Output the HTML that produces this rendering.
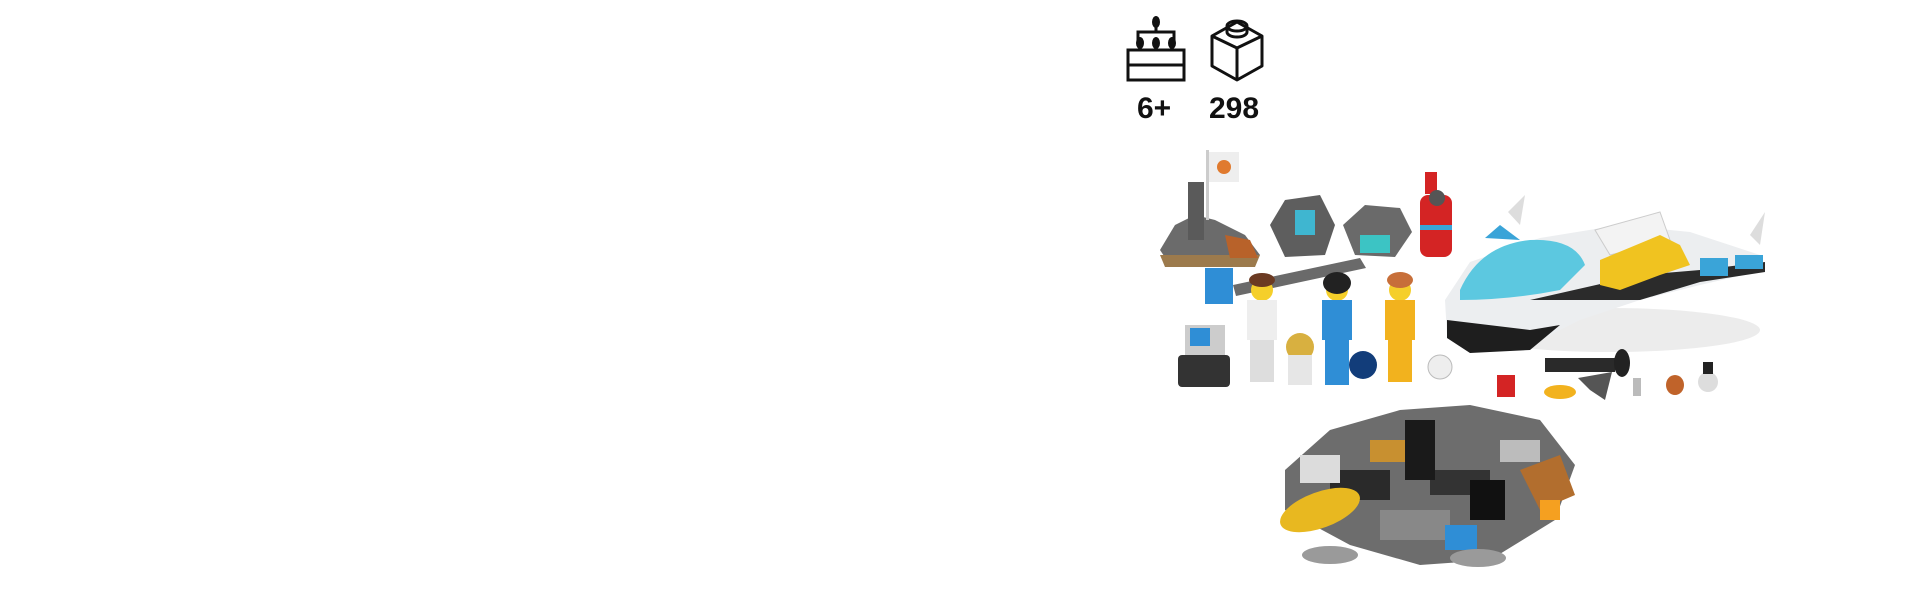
<!DOCTYPE html>
<html><head><meta charset="utf-8"><style>
html,body{margin:0;padding:0;background:#fff;width:1920px;height:600px;overflow:hidden}
.t{position:absolute;font-family:"Liberation Sans",sans-serif;font-weight:bold;font-size:30px;color:#111;top:92px}
</style></head><body>
<svg width="1920" height="600" style="position:absolute;left:0;top:0">
<g fill="none" stroke="#111" stroke-width="3">
<rect x="1128" y="50" width="56" height="30"/>
<line x1="1128" y1="65" x2="1184" y2="65"/>
<polyline points="1138,46 1138,32 1174,32 1174,46"/>
<line x1="1156" y1="24" x2="1156" y2="32"/>
</g>
<g fill="#111">
<ellipse cx="1156" cy="22" rx="4" ry="6"/><ellipse cx="1140" cy="43" rx="4" ry="6"/><ellipse cx="1156" cy="43" rx="4" ry="6"/><ellipse cx="1172" cy="43" rx="4" ry="6"/>
</g>
<g fill="none" stroke="#111" stroke-width="3" stroke-linejoin="round">
<polygon points="1212,36 1237,22 1262,36 1262,66 1237,80 1212,66"/>
<polyline points="1212,36 1237,48 1262,36"/><line x1="1237" y1="48" x2="1237" y2="80"/>
<ellipse cx="1237" cy="26" rx="10" ry="5"/><path d="M1227,26 v6 a10,5 0 0 0 20,0 v-6"/>
</g>
<polygon points="1160,250 1175,225 1195,215 1215,220 1245,235 1260,255 1245,265 1170,265" fill="#6b6b6b"/>
<polygon points="1160,255 1260,255 1255,267 1165,267" fill="#9c7a4c"/>
<rect x="1188" y="182" width="16" height="58" fill="#5a5a5a"/>
<rect x="1206" y="150" width="3" height="70" fill="#ccc"/>
<rect x="1209" y="152" width="30" height="30" fill="#eee"/><circle cx="1224" cy="167" r="7" fill="#e07a2e"/>
<polygon points="1225,235 1250,240 1258,258 1230,258" fill="#b8622a"/>
<polygon points="1270,225 1285,200 1320,195 1335,225 1325,255 1285,257" fill="#5e5e5e"/>
<rect x="1295" y="210" width="20" height="25" fill="#3fb6d0"/>
<polygon points="1343,225 1365,205 1400,208 1412,232 1395,257 1355,255" fill="#6a6a6a"/>
<rect x="1360" y="235" width="30" height="18" fill="#3cc4c4"/>
<rect x="1420" y="195" width="32" height="62" rx="8" fill="#d42424"/>
<rect x="1425" y="172" width="12" height="22" fill="#d42424"/><circle cx="1437" cy="198" r="8" fill="#555"/>
<rect x="1420" y="225" width="32" height="5" fill="#3aa4d8"/>
<ellipse cx="1610" cy="330" rx="150" ry="22" fill="#ececec"/>
<polygon points="1445,300 1470,262 1540,238 1620,225 1690,232 1760,255 1765,270 1700,285 1640,300 1580,320 1530,345 1470,352 1447,335" fill="#eceef0"/>
<polygon points="1447,320 1530,330 1560,325 1530,350 1470,353 1447,338" fill="#1e1e1e"/>
<polygon points="1530,300 1640,275 1700,270 1765,262 1765,272 1700,282 1640,300" fill="#2b2b2b"/>
<polygon points="1595,230 1660,212 1670,240 1610,255" fill="#f3f3f3" stroke="#ccc"/>
<path d="M1460,290 Q1480,245 1530,240 Q1575,238 1585,265 L1560,290 Q1510,300 1460,300 Z" fill="#5cc8e0"/>
<polygon points="1600,260 1660,235 1680,245 1690,265 1660,275 1620,290 1600,285" fill="#f0c320"/>
<rect x="1700" y="258" width="28" height="18" fill="#3aa4d8"/>
<rect x="1735" y="255" width="28" height="14" fill="#3aa4d8"/>
<polygon points="1485,238 1500,225 1520,240" fill="#3aa4d8"/>
<polygon points="1508,212 1525,195 1520,225" fill="#ddd"/><polygon points="1750,235 1765,212 1760,245" fill="#ddd"/>
<rect x="1205" y="268" width="28" height="36" fill="#2f8ed6"/>
<polygon points="1233,285 1360,258 1366,268 1236,296" fill="#6a6a6a"/>
<circle cx="1262" cy="290" r="11" fill="#f5cf2a"/><ellipse cx="1262" cy="280" rx="13" ry="7" fill="#6b3a22"/>
<rect x="1247" y="300" width="30" height="40" fill="#eee"/><rect x="1250" y="340" width="24" height="42" fill="#ddd"/>
<circle cx="1300" cy="347" r="14" fill="#d8b040"/><rect x="1288" y="355" width="24" height="30" fill="#e6e6e6"/>
<circle cx="1337" cy="290" r="11" fill="#f5cf2a"/><ellipse cx="1337" cy="283" rx="14" ry="11" fill="#222"/>
<rect x="1322" y="300" width="30" height="40" fill="#2f8ed6"/><rect x="1325" y="340" width="24" height="45" fill="#2f8ed6"/>
<circle cx="1363" cy="365" r="14" fill="#123d7a"/>
<circle cx="1400" cy="290" r="11" fill="#f5cf2a"/><ellipse cx="1400" cy="280" rx="13" ry="8" fill="#c76f3a"/>
<rect x="1385" y="300" width="30" height="40" fill="#f2b21e"/><rect x="1388" y="340" width="24" height="42" fill="#f2b21e"/>
<circle cx="1440" cy="367" r="12" fill="#eee" stroke="#bbb"/>
<rect x="1185" y="325" width="40" height="35" fill="#ccc"/><rect x="1190" y="328" width="20" height="18" fill="#2f8ed6"/>
<rect x="1178" y="355" width="52" height="32" rx="4" fill="#333"/>
<rect x="1497" y="375" width="18" height="22" fill="#d42424"/>
<ellipse cx="1560" cy="392" rx="16" ry="7" fill="#f2b21e"/>
<rect x="1545" y="358" width="70" height="14" fill="#2a2a2a"/><ellipse cx="1622" cy="363" rx="8" ry="14" fill="#222"/>
<polygon points="1578,378 1612,372 1605,400 1590,390" fill="#555"/>
<rect x="1633" y="378" width="8" height="18" fill="#bbb"/>
<ellipse cx="1675" cy="385" rx="9" ry="10" fill="#c0632a"/>
<circle cx="1708" cy="382" r="10" fill="#ddd"/><rect x="1703" y="362" width="10" height="12" fill="#222"/>
<!-- pile -->
<polygon points="1285,470 1330,430 1400,410 1470,405 1540,420 1575,465 1555,520 1490,560 1420,565 1350,545 1285,510" fill="#6d6d6d"/>
<rect x="1330" y="470" width="60" height="30" fill="#2a2a2a"/>
<rect x="1430" y="470" width="60" height="25" fill="#333"/>
<rect x="1380" y="510" width="70" height="30" fill="#888"/>
<ellipse cx="1320" cy="510" rx="42" ry="18" fill="#e8b820" transform="rotate(-20 1320 510)"/>
<rect x="1370" y="440" width="36" height="22" fill="#c89030"/>
<polygon points="1520,470 1560,455 1575,495 1540,510" fill="#b26e2e"/>
<rect x="1405" y="420" width="30" height="60" fill="#1a1a1a"/>
<rect x="1300" y="455" width="40" height="28" fill="#dcdcdc"/>
<rect x="1445" y="525" width="32" height="25" fill="#2f8ed6"/>
<ellipse cx="1330" cy="555" rx="28" ry="9" fill="#9a9a9a"/><ellipse cx="1478" cy="558" rx="28" ry="9" fill="#9a9a9a"/>
<rect x="1500" y="440" width="40" height="22" fill="#bcbcbc"/>
<rect x="1540" y="500" width="20" height="20" fill="#f5a020"/>
<rect x="1470" y="480" width="35" height="40" fill="#111"/>
</svg>
<div class="t" style="left:1137px">6+</div>
<div class="t" style="left:1209px">298</div>
</body></html>
